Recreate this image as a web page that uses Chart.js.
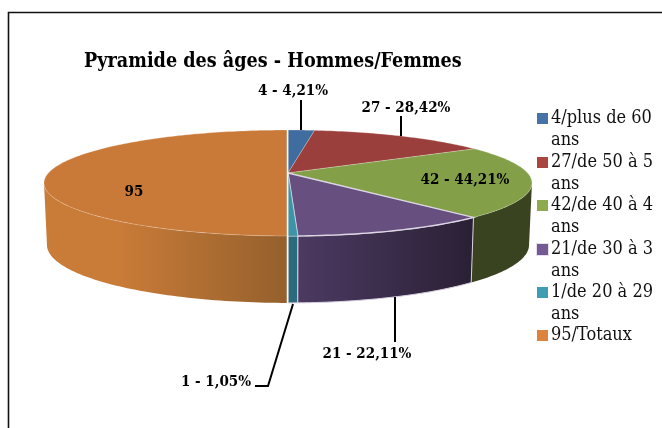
<!DOCTYPE html>
<html><head><meta charset="utf-8">
<style>html,body{margin:0;padding:0;background:#fff}canvas{display:block}</style>
<script src="https://cdn.jsdelivr.net/npm/chart.js@4"></script></head>
<body><div style="width:662px;height:428px"><canvas id="c" width="662" height="428"></canvas></div>
<script>
const categories = [['4/plus de 60','ans'],['27/de 50 à 5','ans'],['42/de 40 à 4','ans'],['21/de 30 à 3','ans'],['1/de 20 à 29','ans'],['95/Totaux']];
const values = [4,27,42,21,1,95];
const dataLabels = ['4 - 4,21%','27 - 28,42%','42 - 44,21%','21 - 22,11%','1 - 1,05%','95'];
const topColors = ['#3f6d9f','#9b3f3d','#839f47','#67507f','#3d93a8','#c97a38'];
const legendColors = ['#4672a8','#a8463f','#8dab4e','#735a93','#409cb3','#dc843e'];
const wallStops = [['#345a85','#345a85'],['#7d3331','#7d3331'],['#3a431f','#3a431f'],['#4c3a62','#2a2035'],['#2a6b7e','#2a6b7e'],['#c97b38','#94602c']];
const wallSpan = [[288,320],[320,474],[474,533],[298,472],[288,298],[120,288]];
const labelPos = [[293,91,'center'],[406,108,'center'],[465,180,'center'],[367,354,'center'],[251,382,'right'],[134,192,'center']];
const leaders = [[[301,100],[301,130]],[[401,116],[401,136]],null,[[395,297],[395,342]],[[293,304],[268,386],[255,386]],null];
const legendRows = [118,162,205,249,292,335];
const serif = '"DejaVu Serif Condensed", "DejaVu Serif", serif';

const topDisc = {cx:288,cy:173,a:239.6,b:51.1,k:0.1887};
const lowDisc = {cx:288,cy:234,a:236.7,b:55.9,k:0.1887};
const edgeAngle = Math.asin(topDisc.k);
function project(d,ang){
  const u=Math.cos(ang),v=Math.sin(ang),w=1-d.k*v;
  return [d.cx+d.a*u/w,d.cy+d.b*v/w];
}
function arcPts(d,s,e){
  const n=Math.max(2,Math.ceil((e-s)/0.02)),p=[];
  for(let i=0;i<=n;i++)p.push(project(d,s+(e-s)*i/n));
  return p;
}
function trace(ctx,pts){ctx.beginPath();pts.forEach((p,i)=>i?ctx.lineTo(p[0],p[1]):ctx.moveTo(p[0],p[1]));ctx.closePath();}

const pie3d = {
  id:'pie3d',
  afterLayout(chart){
    const t=chart.titleBlock;
    const shift=84-t.left; t.left+=shift; t.right+=shift;
    t.top=50; t.bottom=t.top+t.height;
  },
  beforeDraw(chart){
    const ctx=chart.ctx;
    ctx.fillStyle='#fff';ctx.fillRect(0,0,662,428);
    ctx.strokeStyle='#111';ctx.lineWidth=1.6;
    ctx.beginPath();ctx.moveTo(8.5,428);ctx.lineTo(8.5,12.5);ctx.lineTo(662,12.5);ctx.stroke();
  },
  beforeDatasetDraw(chart){
    const ctx=chart.ctx, arcs=chart.getDatasetMeta(0).data;
    ctx.save();
    const order=[2,5,3,4];
    order.forEach(i=>{
      const s=Math.max(arcs[i].startAngle,edgeAngle),e=Math.min(arcs[i].endAngle,Math.PI-edgeAngle);
      if(e<=s)return;
      const g=ctx.createLinearGradient(wallSpan[i][0],0,wallSpan[i][1],0);
      g.addColorStop(0,wallStops[i][0]);g.addColorStop(1,wallStops[i][1]);
      trace(ctx,arcPts(topDisc,s,e).concat(arcPts(lowDisc,s,e).reverse()));
      ctx.fillStyle=g;ctx.fill();
      if(i>=3&&i<=4){ctx.strokeStyle='#d8d0e0';ctx.lineWidth=1;ctx.stroke();}
    });
    ctx.strokeStyle='#fff';ctx.lineWidth=1.5;
    ctx.beginPath();ctx.moveTo(287.5,236);ctx.lineTo(287.5,303);ctx.stroke();
    arcs.forEach((el,i)=>{
      trace(ctx,[[topDisc.cx,topDisc.cy]].concat(arcPts(topDisc,el.startAngle,el.endAngle)));
      ctx.fillStyle=topColors[i];ctx.fill();
      ctx.strokeStyle=i===3?'#dcd5e4':'rgba(255,255,255,0.3)';ctx.lineWidth=i===3?1.4:0.8;ctx.stroke();
    });
    ctx.strokeStyle='#fff';ctx.lineWidth=1.5;
    ctx.beginPath();ctx.moveTo(287.5,130);ctx.lineTo(287.5,236);ctx.stroke();
    ctx.restore();
    return false;
  },
  afterDatasetsDraw(chart){
    const ctx=chart.ctx;
    ctx.save();
    ctx.strokeStyle='#000';ctx.lineWidth=2;
    leaders.forEach(l=>{ if(!l)return; ctx.beginPath();l.forEach((p,i)=>i?ctx.lineTo(p[0],p[1]):ctx.moveTo(p[0],p[1]));ctx.stroke();});
    ctx.fillStyle='#000';ctx.font='bold 15px '+serif;ctx.textBaseline='middle';
    dataLabels.forEach((t,i)=>{ctx.textAlign=labelPos[i][2];ctx.fillText(t,labelPos[i][0],labelPos[i][1]);});
    ctx.textAlign='left';ctx.font='18px '+serif;
    categories.forEach((lines,i)=>{
      const y=legendRows[i];
      if(i===3){ctx.fillStyle='#e6dfec';ctx.fillRect(536,y-6,13,13);}
      ctx.fillStyle=legendColors[i];ctx.fillRect(537,y-5,11,11);
      ctx.fillStyle='#111';
      lines.forEach((t,j)=>ctx.fillText(t,551,y+j*22));
    });
    ctx.restore();
  }
};

new Chart(document.getElementById('c'),{
  type:'pie',
  data:{labels:categories,datasets:[{data:values,backgroundColor:topColors,borderWidth:0}]},
  plugins:[pie3d],
  options:{
    responsive:false,animation:false,
    plugins:{
      legend:{display:false},tooltip:{enabled:false},
      title:{display:true,text:'Pyramide des âges - Hommes/Femmes',align:'start',color:'#000',
        font:{family:serif,size:19.6,weight:'bold'},padding:0}
    }
  }
});
</script></body></html>
